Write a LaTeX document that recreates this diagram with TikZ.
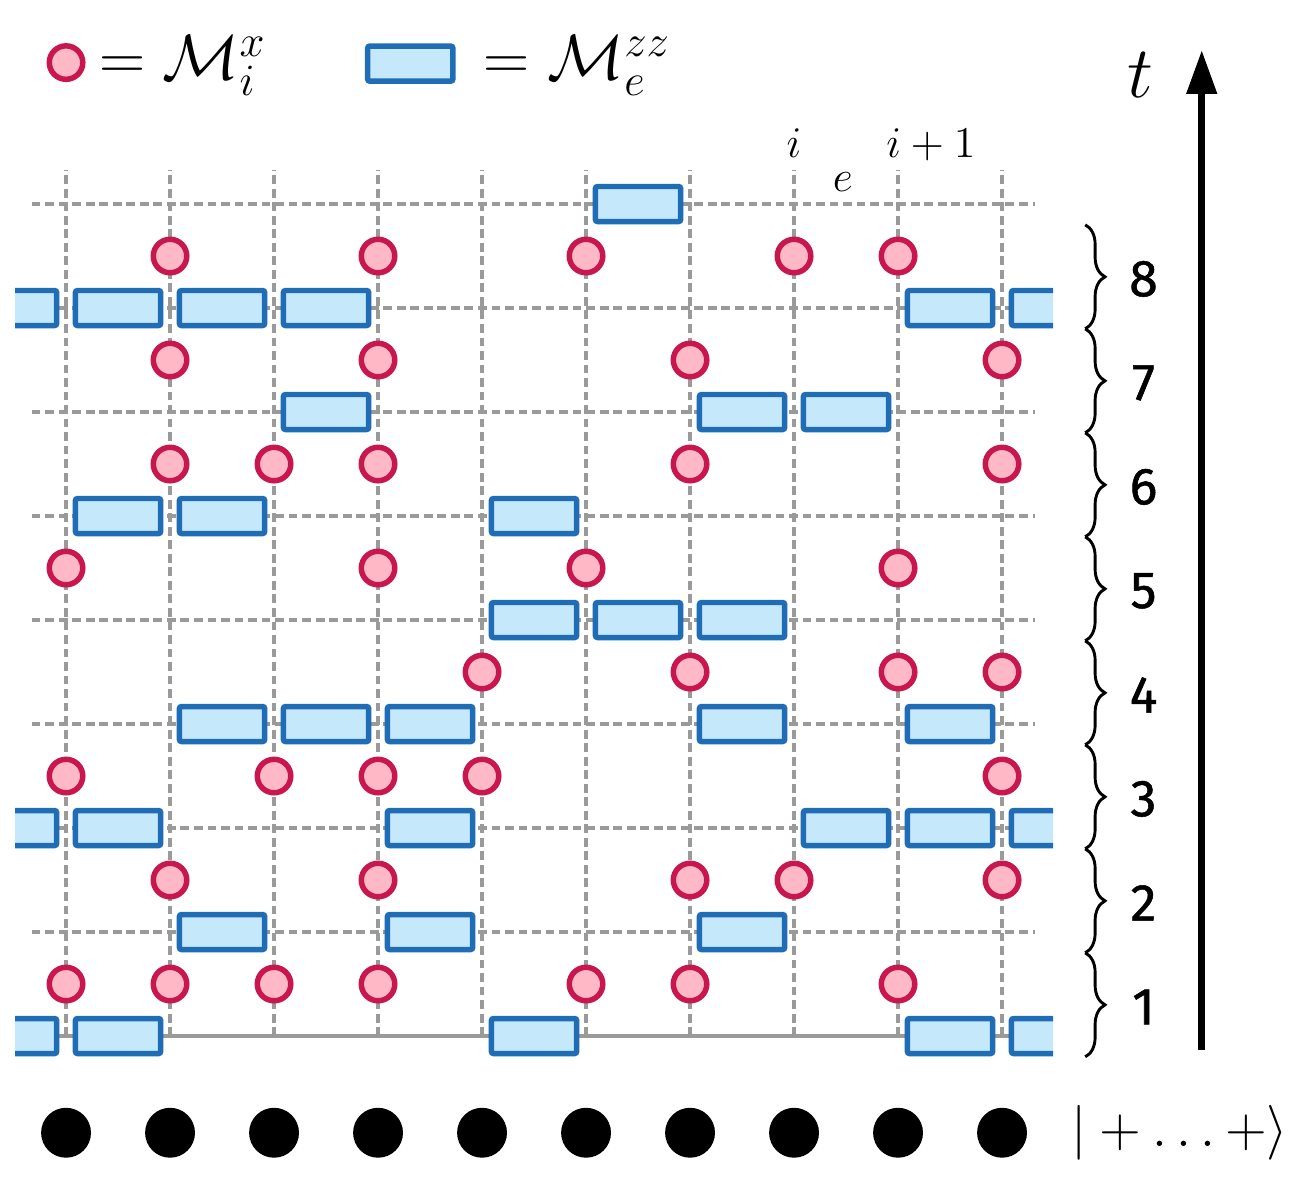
\RequirePackage{fix-cm}
\documentclass[tikz,border=0pt]{standalone}
\usepackage{fontspec}
\usetikzlibrary{arrows.meta,decorations.pathreplacing}
\newfontfamily\stepfont[FakeBold=1]{Fira Sans}
\definecolor{xfill}{HTML}{FFB8C6}
\definecolor{xdraw}{HTML}{C8174F}
\definecolor{zzfill}{HTML}{C6E8FB}
\definecolor{zzdraw}{HTML}{1F6DB4}
\definecolor{gridgray}{HTML}{9A9A9A}
\newcommand{\legendsize}{\fontsize{17.5}{21}\selectfont}
\newcommand{\sitesize}{\fontsize{12}{14}\selectfont}
\tikzset{
  xmeas/.style={circle, draw=xdraw, fill=xfill, line width=1.5pt, minimum size=0.322cm, inner sep=0pt},
  zzmeas/.style={rectangle, draw=zzdraw, fill=zzfill, line width=1.5pt, rounded corners=0.6pt,
    minimum width=0.82cm, minimum height=0.337cm, inner sep=0pt},
  gridline/.style={gridgray, line width=1.1pt, dash pattern=on 2.4pt off 1.3pt},
  qubit/.style={circle, fill=black, minimum size=0.48cm, inner sep=0pt},
  steplabel/.style={font=\stepfont\fontsize{14.2}{17}\selectfont},
}

\begin{document}
\begin{tikzpicture}
    \useasboundingbox (-0.635,-1.442) rectangle (11.942,9.962);
    \foreach \c in {0,...,9}
      \draw[gridline] (\c,0) -- (\c,8.33);
    \foreach \r in {1,...,8}
      \draw[gridline] (-0.33,\r) -- (9.32,\r);
    \draw[gridgray, line width=1.2pt] (-0.33,0) -- (9.32,0);
    % single-site x measurements
    \foreach \r/\cols in {1/{0,1,2,3,5,6,8}, 2/{1,3,6,7,9}, 3/{0,2,3,4,9}, 4/{4,6,8,9},
        5/{0,3,5,8}, 6/{1,2,3,6,9}, 7/{1,3,6,9}, 8/{1,3,5,7,8}}
      \foreach \c in \cols
        \node[xmeas] (x-\r-\c) at (\c,\r-0.5) {};
    % zz measurements on edges, edge 9 wraps round
    \begin{scope}
      \clip (-0.49,-0.5) rectangle (9.49,8.5);
      \foreach \r/\edges in {0/{0,4,8,9}, 1/{1,3,6}, 2/{0,3,7,8,9}, 3/{1,2,3,6,8},
          4/{4,5,6}, 5/{0,1,4}, 6/{2,6,7}, 7/{0,1,2,8,9}, 8/{5}}
        \foreach \e in \edges
          \node[zzmeas] (zz-\r-\e) at (\e+0.5,\r) {};
      \foreach \r in {0,2,7}
        \node[zzmeas] (zz-\r-w) at (-0.5,\r) {};
    \end{scope}
    \foreach \c in {0,...,9}
      \node[qubit] (q-\c) at (\c,-0.93) {};
    \node[font=\fontsize{15}{18}\selectfont] (state) at (10.71,-0.93) {$|+\ldots+\rangle$};
    \node[anchor=base, font=\sitesize] (lab-i) at (7,8.45) {$i$};
    \node[anchor=base, font=\sitesize] (lab-e) at (7.47,8.12) {$e$};
    \node[anchor=base west, inner sep=0pt, font=\sitesize] (lab-ip) at (7.88,8.45) {$i+1$};
    \foreach \k in {1,...,8} {
      \draw[line width=0.8pt, decorate, decoration={brace, amplitude=0.19cm}]
        (9.8,\k-0.2) -- (9.8,\k-1.2);
      \node[steplabel] (step-\k) at (10.36,\k-0.72) {\k};
    }
    \coordinate (t-start) at (10.92,-0.135);
    \coordinate (t-end) at (10.92,9.48);
    \draw[line width=1.9pt, -{Triangle[length=0.42cm,width=0.28cm]}] (t-start) -- (t-end);
    \node[anchor=base, font=\fontsize{20}{24}\selectfont] (t-label) at (10.33,9.02) {$t$};
    % legend
    \node[xmeas] (key-x) at (0,9.36) {};
    \node[anchor=base west, inner sep=0pt, font=\legendsize] (key-x-text) at (0.31,9.2) {$=\mathcal{M}_i^x$};
    \node[zzmeas] (key-zz) at (3.31,9.35) {};
    \node[anchor=base west, inner sep=0pt, font=\legendsize] (key-zz-text) at (4.01,9.2) {$=\mathcal{M}_e^{zz}$};
\end{tikzpicture}
\end{document}
